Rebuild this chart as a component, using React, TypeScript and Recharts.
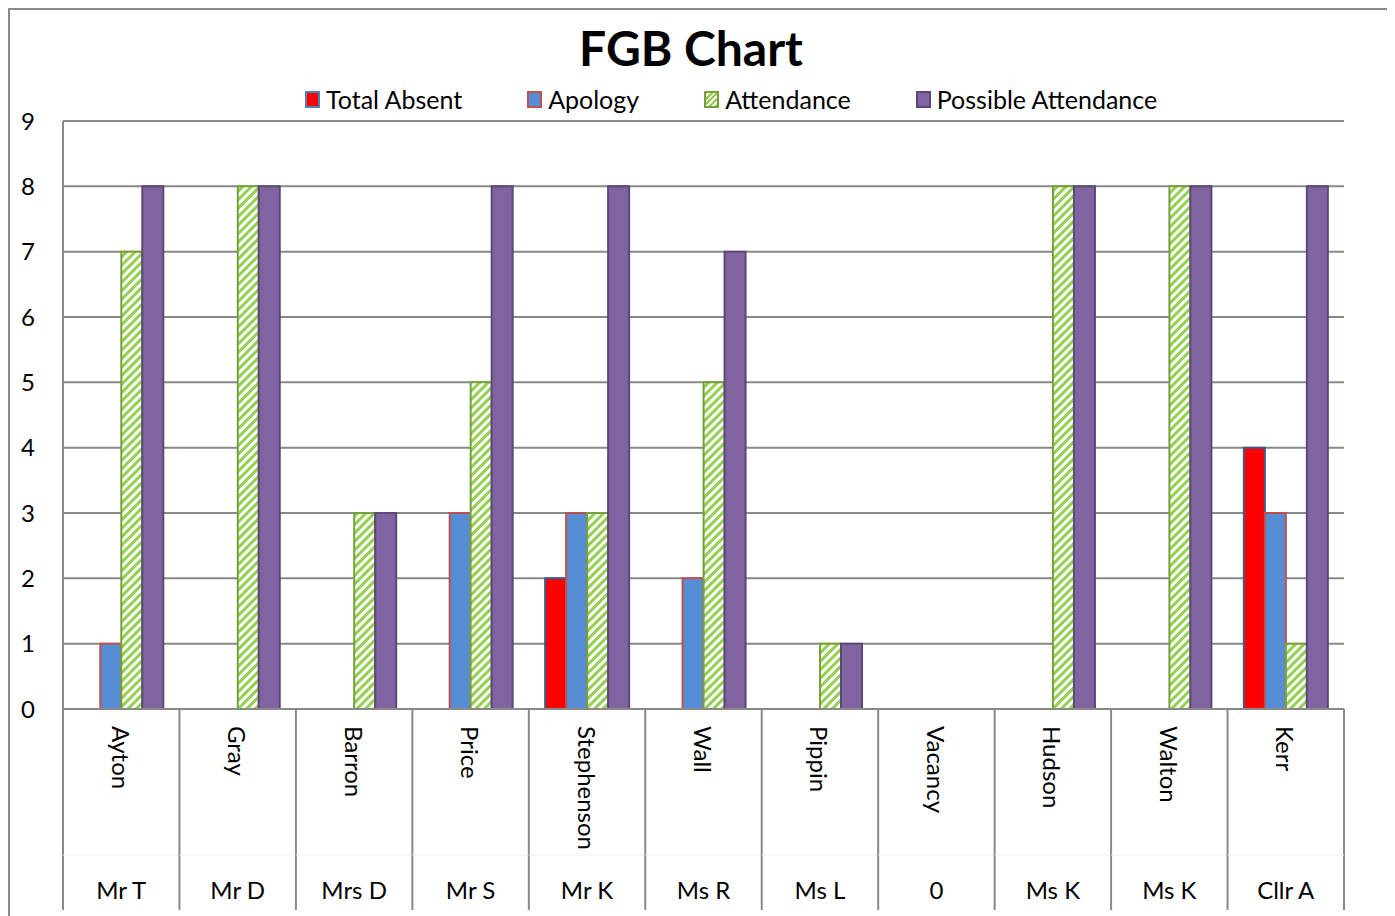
import React from "react";
import { Bar, BarChart, CartesianGrid, XAxis, YAxis } from "recharts";

const names = ["Ayton", "Gray", "Barron", "Price", "Stephenson", "Wall", "Pippin", "Vacancy", "Hudson", "Walton", "Kerr"];
const groupLabels = ["Mr T", "Mr D", "Mrs D", "Mr S", "Mr K", "Ms R", "Ms L", "0", "Ms K", "Ms K", "Cllr A"];
const totalAbsent = [0, 0, 0, 0, 2, 0, 0, 0, 0, 0, 4];
const apology = [1, 0, 0, 3, 3, 2, 0, 0, 0, 0, 3];
const attendance = [7, 8, 3, 5, 3, 5, 1, 0, 8, 8, 1];
const possible = [8, 8, 3, 8, 8, 7, 1, 0, 8, 8, 8];
const yTicks = [0, 1, 2, 3, 4, 5, 6, 7, 8, 9];

const data = names.map((name, i) => ({
  name,
  totalAbsent: totalAbsent[i],
  apology: apology[i],
  attendance: attendance[i],
  possible: possible[i],
}));

// chart box sits inside a 2px top/left frame, so page x = chart x + 10
const W = 1385;
const H = 906;
const Y_AXIS_W = 53;
const X_AXIS_H = 207;
const RIGHT = 51;
const TOP = 111;
const PLOT_W = W - Y_AXIS_W - RIGHT;
const BAND = PLOT_W / names.length;
const AXIS_Y = H - X_AXIS_H;
const FONT = "Lato, 'Open Sans', sans-serif";
const GRID = "#898989";

const legendItems = [
  { label: "Total Absent", fill: "#ff0000", stroke: "#4f81bd" },
  { label: "Apology", fill: "#558ed5", stroke: "#c0504d" },
  { label: "Attendance", fill: "stripes", stroke: "#77a03a" },
  { label: "Possible Attendance", fill: "#8064a2", stroke: "#5c4776" },
];

function CategoryTick(props: any) {
  const { x, payload } = props;
  const i = payload.index;
  const left = x - BAND / 2;
  return (
    <g>
      <line x1={left} x2={left} y1={AXIS_Y} y2={900} stroke={GRID} strokeWidth={2} />
      {i === names.length - 1 && (
        <line x1={x + BAND / 2} x2={x + BAND / 2} y1={AXIS_Y} y2={900} stroke={GRID} strokeWidth={2} />
      )}
      <line x1={left} x2={left + BAND} y1={845} y2={845} stroke="#f0f0f0" strokeWidth={1} />
      <text
        x={x}
        y={AXIS_Y + 17}
        transform={`rotate(90 ${x} ${AXIS_Y + 17})`}
        textAnchor="start"
        dominantBaseline="central"
        fontSize={24}
        fontFamily={FONT}
        fill="#000"
      >
        {names[i]}
      </text>
      <text x={x} y={879} textAnchor="middle" dominantBaseline="central" fontSize={24} fontFamily={FONT} fill="#000">
        {groupLabels[i]}
      </text>
    </g>
  );
}

function ChartLegend() {
  return (
    <div
      style={{
        position: "absolute",
        left: 295,
        top: 75,
        display: "flex",
        gap: 65,
        fontFamily: FONT,
        fontSize: 25,
        color: "#000",
        lineHeight: "28px",
        whiteSpace: "nowrap",
      }}
    >
      {legendItems.map((it) => (
        <div key={it.label} style={{ display: "flex", alignItems: "center", gap: 6 }}>
          <span
            style={{
              width: 11,
              height: 13,
              border: `2px solid ${it.stroke}`,
              background:
                it.fill === "stripes"
                  ? "repeating-linear-gradient(-45deg, #92d050 0 2px, #ffffff 2px 4px)"
                  : it.fill,
              display: "inline-block",
            }}
          />
          <span>{it.label}</span>
        </div>
      ))}
    </div>
  );
}

export default function App() {
  return (
    <div
      style={{
        width: 1385,
        height: 906,
        borderTop: `2px solid ${GRID}`,
        borderLeft: `2px solid ${GRID}`,
        position: "relative",
        overflow: "hidden",
        background: "#fff",
      }}
    >
      <div
        style={{
          position: "absolute",
          left: 0,
          width: 1362,
          top: 10,
          textAlign: "center",
          fontFamily: FONT,
          fontWeight: 700,
          fontSize: 48,
          lineHeight: "56px",
          color: "#000",
        }}
      >
        FGB Chart
      </div>
      <ChartLegend />
      <BarChart
        width={W}
        height={H}
        data={data}
        margin={{ top: TOP, right: RIGHT, bottom: 0, left: 0 }}
        barGap={0}
        barCategoryGap="14%"
      >
        <defs>
          <pattern id="attStripes" patternUnits="userSpaceOnUse" width={6} height={6} patternTransform="rotate(45)">
            <rect width={6} height={6} fill="#ffffff" />
            <rect width={3} height={6} fill="#92d050" />
          </pattern>
        </defs>
        <CartesianGrid vertical={false} stroke={GRID} strokeWidth={2} />
        <XAxis
          dataKey="name"
          interval={0}
          tickLine={false}
          axisLine={{ stroke: GRID, strokeWidth: 2 }}
          height={X_AXIS_H}
          tick={<CategoryTick />}
        />
        <YAxis
          domain={[0, 9]}
          ticks={yTicks}
          interval={0}
          tickLine={false}
          axisLine={{ stroke: GRID, strokeWidth: 2 }}
          width={Y_AXIS_W}
          tick={{ fontSize: 24, fontFamily: FONT, fill: "#000" }}
          tickMargin={22}
        />
        <Bar dataKey="totalAbsent" name="Total Absent" fill="#ff0000" stroke="#385d8a" strokeWidth={2} isAnimationActive={false} />
        <Bar dataKey="apology" name="Apology" fill="#558ed5" stroke="#c0504d" strokeWidth={2} isAnimationActive={false} />
        <Bar dataKey="attendance" name="Attendance" fill="url(#attStripes)" stroke="#77a03a" strokeWidth={2} isAnimationActive={false} />
        <Bar dataKey="possible" name="Possible Attendance" fill="#8064a2" stroke="#5c4776" strokeWidth={2} isAnimationActive={false} />
      </BarChart>
    </div>
  );
}
